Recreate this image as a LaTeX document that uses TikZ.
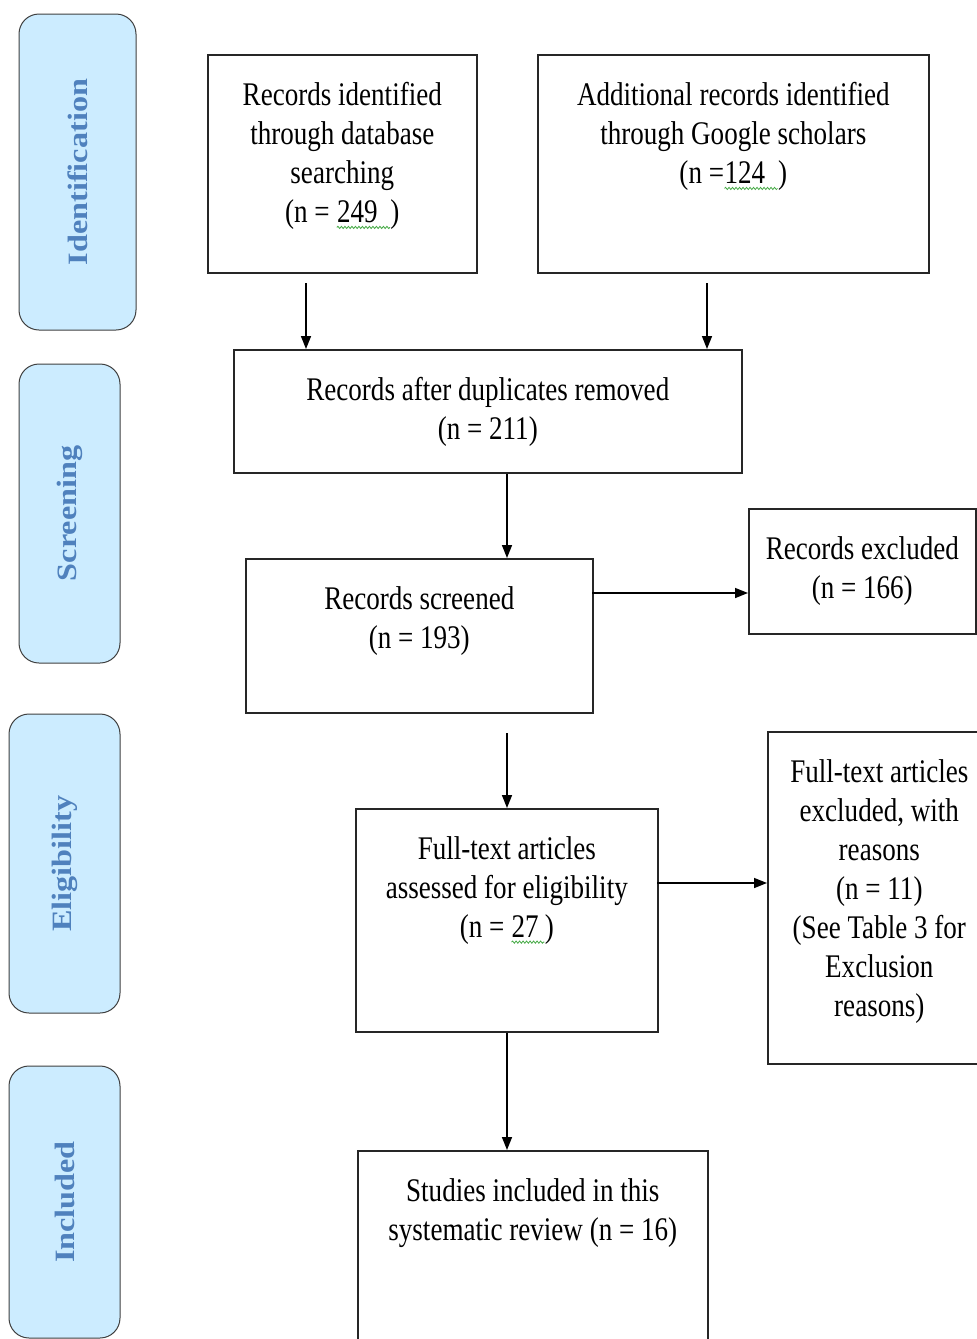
\documentclass[tikz,border=0pt]{standalone}
\usepackage{fontspec}
\setmainfont[FakeStretch=0.82]{Liberation Serif}
\newfontfamily\phasefont[FakeStretch=1.15]{Liberation Serif}
\usepackage{tikz}
\usetikzlibrary{arrows.meta,positioning,decorations.pathmorphing}
\definecolor{phasefill}{RGB}{204,236,255}
\definecolor{phasetext}{RGB}{79,129,189}
\definecolor{squiggle}{RGB}{70,170,70}
\newcommand*{\squig}[1]{\tikz[baseline=(w.base)]{\node[inner sep=0pt] (w) {#1}; \draw[squiggle, line width=0.8pt, decorate, decoration={snake, amplitude=1.1pt, segment length=3.5pt}] ([yshift=-5pt]w.base west) -- ([yshift=-5pt]w.base east);}}

\begin{document}
\begin{tikzpicture}[
    x=1pt, y=-1pt, % one unit per pixel, y going down
    >={Triangle[length=13pt,width=10pt]}, % filled arrow heads
    box/.style={draw=black!85, line width=1.6pt, anchor=north west, inner sep=0pt}, % flow boxes
    txt/.style={inner sep=0pt, align=center, font=\fontsize{33}{39}\selectfont}, % box texts
    phase/.style={draw=black!75, line width=1pt, fill=phasefill, rounded corners=20pt,
      rotate=90, text=phasetext, font=\phasefont\bfseries\fontsize{28}{32}\selectfont}, % side pills
    arr/.style={->, line width=1.5pt} % connectors
  ]
  \useasboundingbox[fill=white] (0,0) rectangle (977,1339);
  %% phases
  \node[phase, minimum width=316, minimum height=117] (ident) at (77.5,172) {Identification};
  \node[phase, minimum width=299, minimum height=101] (screen) at (69.5,513.5) {Screening};
  \node[phase, minimum width=299, minimum height=111] (elig) at (64.5,863.5) {Eligibility};
  \node[phase, minimum width=272, minimum height=111] (inclp) at (64.5,1202) {Included};
  %% boxes
  \node[box, minimum width=269, minimum height=218] (db) at (207,54) {};
  \node[txt, below=28pt of db.north] (db-t) {Records identified\\ through database\\ searching\\ (n = \squig{249\,\ })};
  \node[box, minimum width=391, minimum height=218] (gs) at (537,54) {};
  \node[txt, below=28pt of gs.north] (gs-t) {Additional records identified\\ through Google scholars\\ (n =\squig{124\,\ })};
  \node[box, minimum width=508, minimum height=123] (dup) at (233,349) {};
  \node[txt, below=28pt of dup.north] (dup-t) {Records after duplicates removed\\ (n = 211)};
  \node[box, minimum width=347, minimum height=154] (scr) at (245,558) {};
  \node[txt, below=28pt of scr.north] (scr-t) {Records screened\\ (n = 193)};
  \node[box, minimum width=227, minimum height=125] (excl) at (748,508) {};
  \node[txt, below=28pt of excl.north] (excl-t) {Records excluded\\ (n = 166)};
  \node[box, minimum width=302, minimum height=223] (full) at (355,808) {};
  \node[txt, below=28pt of full.north] (full-t) {Full-text articles\\ assessed for eligibility\\ (n = \squig{27\,})};
  \node[box, minimum width=223, minimum height=332] (reas) at (767,731) {};
  \node[txt, below=28pt of reas.north] (reas-t) {Full-text articles\\ excluded, with\\ reasons\\ (n = 11)\\ (See Table 3 for\\ Exclusion\\ reasons)};
  \node[box, minimum width=350, minimum height=230] (incl) at (357,1150) {};
  \node[txt, below=28pt of incl.north] (incl-t) {Studies included in this\\ systematic review (n = 16)};
  %% path
  \coordinate (ta) at (306,283);
  \coordinate (tb) at (707,283);
  \coordinate (ts) at (592,593);
  \coordinate (tf) at (507,733);
  \coordinate (tg) at (657,883);
  \draw[arr] (ta) -- (ta |- dup.north);
  \draw[arr] (tb) -- (tb |- dup.north);
  \draw[arr] (dup.south -| tf) -- (scr.north -| tf);
  \draw[arr] (ts) -- (ts -| excl.west);
  \draw[arr] (tf) -- (tf |- full.north);
  \draw[arr] (tg) -- (tg -| reas.west);
  \draw[arr] (full.south -| tf) -- (incl.north -| tf);
\end{tikzpicture}
\end{document}
